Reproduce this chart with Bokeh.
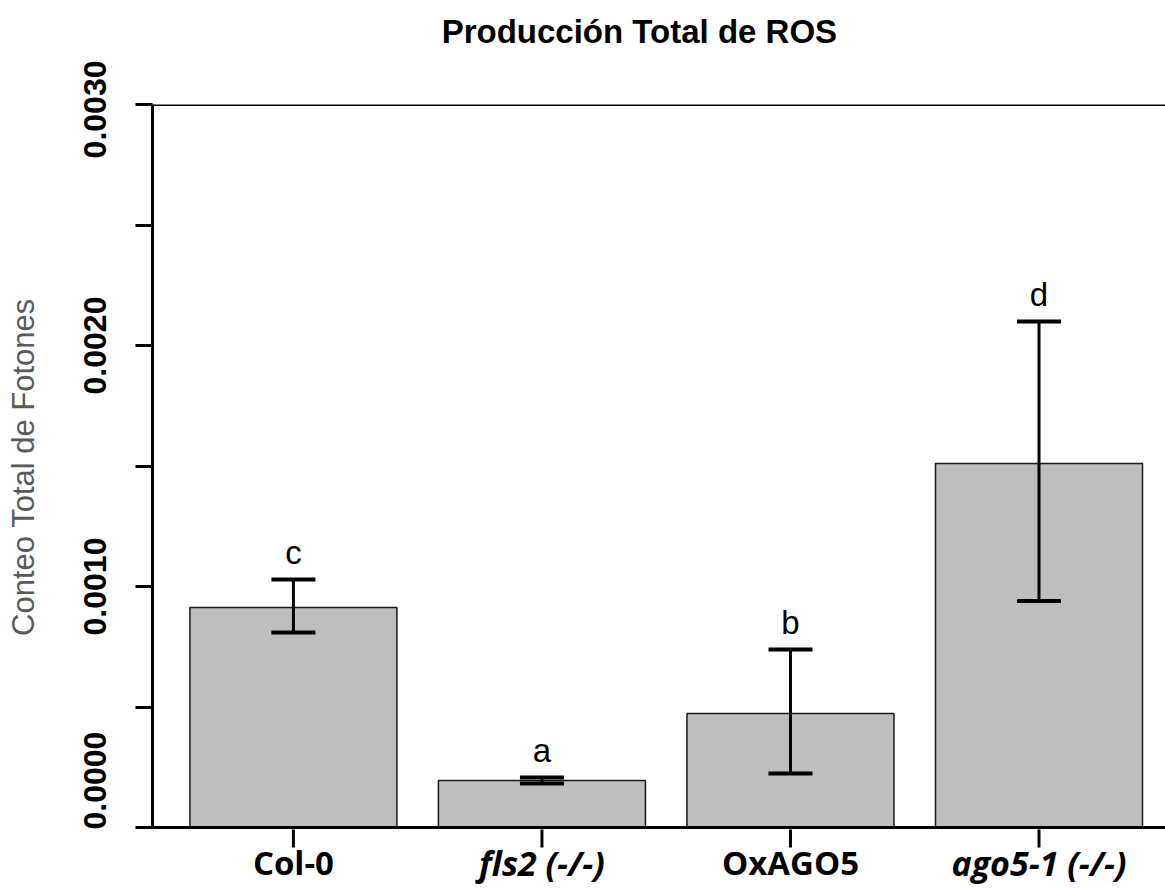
from bokeh.plotting import figure
from bokeh.layouts import column
from bokeh.models import (Range1d, FixedTicker, Span, Whisker, TeeHead,
                          ColumnDataSource, PrintfTickFormatter)
from bokeh.core.properties import value
from bokeh.embed import file_html
from bokeh.resources import INLINE

# ---- data ----
title_text = "Producción Total de ROS"
categories = ["Col-0", "fls2 (-/-)", "OxAGO5", "ago5-1 (-/-)"]
means = [0.000913, 0.000195, 0.000473, 0.001510]
upper = [0.001029, 0.000207, 0.000739, 0.002100]
lower = [0.000809, 0.000183, 0.000224, 0.000940]
letters = ["c", "a", "b", "d"]
y_ticks = [0.0, 0.001, 0.002, 0.003]
y_minor = [0.0005, 0.0015, 0.0025]
italic = [False, True, False, True]

positions = list(range(len(categories)))
src = ColumnDataSource(dict(x=positions, top=means, upper=upper,
                            lower=lower, letter=letters))

Y0, Y1 = 0.0, 0.003
W = 1165
H_TITLE = 60
PAD = 2                      # px of frame kept below zero so the axis line is whole
FRAME_H = 723
Y_PER_PX = (Y1 - Y0) / FRAME_H
H_MAIN = (104 - H_TITLE) + FRAME_H + PAD
H_LAB = 888 - H_TITLE - H_MAIN
xr = Range1d(-0.567, 3.509)
TITLE_X = 1.392   # horizontal centre of the title, in category units
TICK_LEN = 18


def strip(height):
    f = figure(width=W, height=height, output_backend="svg", toolbar_location=None,
               x_range=xr, y_range=Range1d(0, height),
               min_border_left=152, min_border_right=0, min_border_top=0,
               min_border_bottom=0)
    f.outline_line_color = None
    f.axis.visible = False
    f.grid.visible = False
    f.background_fill_color = "white"
    f.border_fill_color = "white"
    return f


# ---- title strip ----
pt = strip(H_TITLE)
pt.text(x=[TITLE_X], y=[0], text=[title_text], y_offset=-29,
        text_align="center", text_baseline="alphabetic",
        text_font=value("Liberation Sans"), text_font_style="bold",
        text_font_size="33px", text_color="black")

# ---- main plot ----
p = figure(width=W, height=H_MAIN, output_backend="svg", toolbar_location=None,
           x_range=xr, y_range=Range1d(Y0 - PAD * Y_PER_PX, Y1),
           min_border_left=152, min_border_right=0, min_border_top=104 - H_TITLE,
           min_border_bottom=0)
p.outline_line_color = None
p.background_fill_color = "white"
p.border_fill_color = "white"
p.xgrid.visible = False
p.ygrid.visible = False
p.xaxis.visible = False

# bars
p.vbar(x="x", top="top", width=0.833, bottom=0, source=src,
       fill_color="#bebebe", line_color="#1a1a1a", line_width=1.5)

# error bars
w = Whisker(base="x", upper="upper", lower="lower", source=src,
            line_color="black", line_width=3, level="overlay",
            upper_head=TeeHead(size=44, line_width=4, line_color="black"),
            lower_head=TeeHead(size=44, line_width=4, line_color="black"))
p.add_layout(w)

# significance letters
p.text(x="x", y="upper", text="letter", source=src, y_offset=-27,
       text_align="center", text_baseline="alphabetic",
       text_font=value("Liberation Sans"), text_font_size="33px",
       text_color="black")

# top line and x-axis line
p.add_layout(Span(location=Y1, dimension="width", line_color="black", line_width=3))
p.add_layout(Span(location=Y0, dimension="width", line_color="black", line_width=3,
                  level="overlay"))

# y axis
ya = p.yaxis[0]
ya.ticker = FixedTicker(ticks=y_ticks, minor_ticks=y_minor)
ya.formatter = PrintfTickFormatter(format="%.4f")
ya.major_label_orientation = "vertical"
ya.major_label_text_font = "Liberation Sans"
ya.major_label_text_font_style = "bold"
ya.major_label_text_font_size = "32px"
ya.major_label_text_color = "black"
ya.major_label_standoff = 30
ya.axis_line_width = 3
ya.axis_line_color = "black"
ya.major_tick_line_width = 3
ya.minor_tick_line_width = 3
ya.major_tick_out = 17
ya.major_tick_in = 0
ya.minor_tick_out = 17
ya.minor_tick_in = 0
ya.axis_label = "Conteo Total de Fotones"
ya.axis_label_text_font = "Liberation Sans"
ya.axis_label_text_font_style = "normal"
ya.axis_label_text_font_size = "31px"
ya.axis_label_text_color = "#5a5a5a"
ya.axis_label_standoff = 40

# ---- category strip: x ticks and labels (mixed italic) ----
lab_src = ColumnDataSource(dict(
    x=positions, y=[0] * len(categories), text=categories,
    style=["bold italic" if it else "bold" for it in italic],
    size=["34px" if it else "33px" for it in italic],
    t0=[H_LAB + 2] * len(categories), t1=[H_LAB - TICK_LEN] * len(categories)))
pl = strip(H_LAB)
pl.segment(x0="x", x1="x", y0="t0", y1="t1", source=lab_src,
           line_color="black", line_width=3)
pl.text(x="x", y="y", text="text", source=lab_src, y_offset=-26,
        text_align="center", text_baseline="alphabetic",
        text_font=value("Open Sans"), text_font_style="style",
        text_font_size="size", text_color="black")

layout = column(pt, p, pl, spacing=0)
open("out.html", "w").write(file_html(layout, INLINE))
